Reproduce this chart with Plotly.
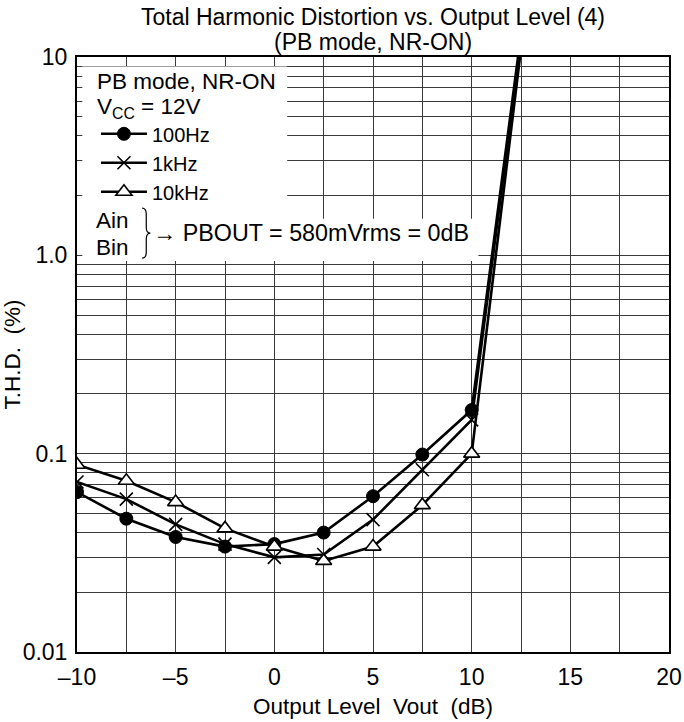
import plotly.graph_objects as go

# ---- data ----
vout_db = [-10, -7.5, -5, -2.5, 0, 2.5, 5, 7.5, 10, 12.5]
thd_100hz = [0.064, 0.047, 0.038, 0.034, 0.035, 0.040, 0.061, 0.099, 0.166, 13]
thd_1khz = [0.072, 0.059, 0.044, 0.035, 0.030, 0.031, 0.0465, 0.083, 0.148, 12]
thd_10khz = [0.088, 0.073, 0.057, 0.042, 0.034, 0.0288, 0.034, 0.055, 0.100, 11]

series_names = ["100Hz", "1kHz", "10kHz"]

x_tickvals = [-10, -7.5, -5, -2.5, 0, 2.5, 5, 7.5, 10, 12.5, 15, 17.5, 20]
x_ticktext = ["\u201310", "", "\u20135", "", "0", "", "5", "", "10", "", "15", "", "20"]

y_decades = [0.01, 0.1, 1, 10]
y_decade_text = ["0.01", "0.1", "1.0", "10"]

title_lines = ["Total Harmonic Distortion vs. Output Level (4)", "(PB mode, NR-ON)"]
note_lines = ["PB mode, NR-ON", "V<sub>CC</sub> = 12V"]

FONT = "Liberation Sans, Arial, Helvetica, sans-serif"
GRID = "#3a3a3a"

# y tick values: decades plus 2..9 minor grid
y_tickvals, y_ticktext = [], []
for d, t in zip(y_decades, y_decade_text):
    y_tickvals.append(d)
    y_ticktext.append(t)
    if d < 10:
        for m in range(2, 10):
            y_tickvals.append(d * m)
            y_ticktext.append("")

fig = go.Figure()

styles = [
    dict(symbol="circle", size=13, color="black", line=dict(color="black", width=1)),
    dict(symbol="x-thin", size=13, color="black", line=dict(color="black", width=1.6)),
    dict(symbol="triangle-up", size=14, color="white", line=dict(color="black", width=1.6)),
]
for name, ys, mk in zip(series_names, [thd_100hz, thd_1khz, thd_10khz], styles):
    fig.add_trace(go.Scatter(
        x=vout_db, y=ys, name=name, mode="lines+markers",
        line=dict(color="black", width=2.6),
        marker=mk, legendgroup=name, cliponaxis=True,
    ))

# white legend box (L-shaped) above gridlines
box_path = ("M 0.009,0.984 L 0.355,0.984 L 0.355,0.728 L 0.678,0.728 "
            "L 0.678,0.657 L 0.009,0.657 Z")
fig.add_shape(type="path", path=box_path, xref="x domain", yref="y domain",
              fillcolor="white", line=dict(width=0), layer="above")

# brace for Ain/Bin
bx0, bxm, bx1 = 0.110, 0.117, 0.124
yt, ymid, yb = 0.746, 0.704, 0.662
brace = (f"M {bx0},{yt} Q {bxm},{yt} {bxm},{yt-0.010} L {bxm},{ymid+0.010} "
         f"Q {bxm},{ymid} {bx1},{ymid} Q {bxm},{ymid} {bxm},{ymid-0.010} "
         f"L {bxm},{yb+0.010} Q {bxm},{yb} {bx0},{yb}")
fig.add_shape(type="path", path=brace, xref="x domain", yref="y domain",
              line=dict(color="black", width=1.2), layer="above")

def tf(size):
    return dict(family=FONT, size=size, color="black")

fig.add_annotation(text=note_lines[0], xref="x domain", yref="y domain",
                   x=0.030, y=0.959, xanchor="left", yanchor="middle",
                   showarrow=False, font=tf(22.5))
fig.add_annotation(text=note_lines[1], xref="x domain", yref="y domain",
                   x=0.030, y=0.915, xanchor="left", yanchor="middle",
                   showarrow=False, font=tf(22.5))
fig.add_annotation(text="Ain", xref="x domain", yref="y domain",
                   x=0.028, y=0.7255, xanchor="left", yanchor="middle",
                   showarrow=False, font=tf(22.5))
fig.add_annotation(text="Bin", xref="x domain", yref="y domain",
                   x=0.028, y=0.680, xanchor="left", yanchor="middle",
                   showarrow=False, font=tf(22.5))
fig.add_annotation(text="\u2192 PBOUT = 580mVrms = 0dB", xref="x domain", yref="y domain",
                   x=0.125, y=0.704, xanchor="left", yanchor="middle",
                   showarrow=False, font=tf(23.3))

# title, two lines
fig.add_annotation(text=title_lines[0], xref="paper", yref="paper", x=0.5, y=1.0665,
                   xanchor="center", yanchor="middle", showarrow=False, font=tf(23))
fig.add_annotation(text=title_lines[1], xref="paper", yref="paper", x=0.5, y=1.0245,
                   xanchor="center", yanchor="middle", showarrow=False, font=tf(23))

fig.update_layout(
    width=684, height=722,
    margin=dict(l=77, r=15, t=57, b=70, autoexpand=False),
    paper_bgcolor="white", plot_bgcolor="white",
    font=tf(22.5),
    showlegend=True,
    legend=dict(
        x=0.032, y=0.9037, xanchor="left", yanchor="top",
        bgcolor="rgba(0,0,0,0)", borderwidth=0,
        font=tf(20), tracegroupgap=0, itemwidth=46,
    ),
    xaxis=dict(
        range=[-10, 20], tickvals=x_tickvals, ticktext=x_ticktext,
        tickfont=tf(23), automargin=False,
        showgrid=True, gridcolor=GRID, gridwidth=1,
        showline=True, linecolor="black", linewidth=2, mirror=True,
        zeroline=False, ticks="", ticklabelstandoff=3,
        title=dict(text="Output Level\u00a0\u00a0Vout\u00a0\u00a0(dB)", standoff=10, font=tf(22.5)),
    ),
    yaxis=dict(
        type="log", range=[-2, 1], tickvals=y_tickvals, ticktext=y_ticktext,
        tickfont=tf(23), automargin=False,
        showgrid=True, gridcolor=GRID, gridwidth=1,
        showline=True, linecolor="black", linewidth=2, mirror=True,
        zeroline=False, ticks="", ticklabelstandoff=3,
        title=dict(text="T.H.D.\u00a0\u00a0(%)", standoff=0, font=tf(22.5)),
    ),
)

fig.write_html("out.html", config={"displayModeBar": False},
               post_script="document.body.style.margin='0';")
